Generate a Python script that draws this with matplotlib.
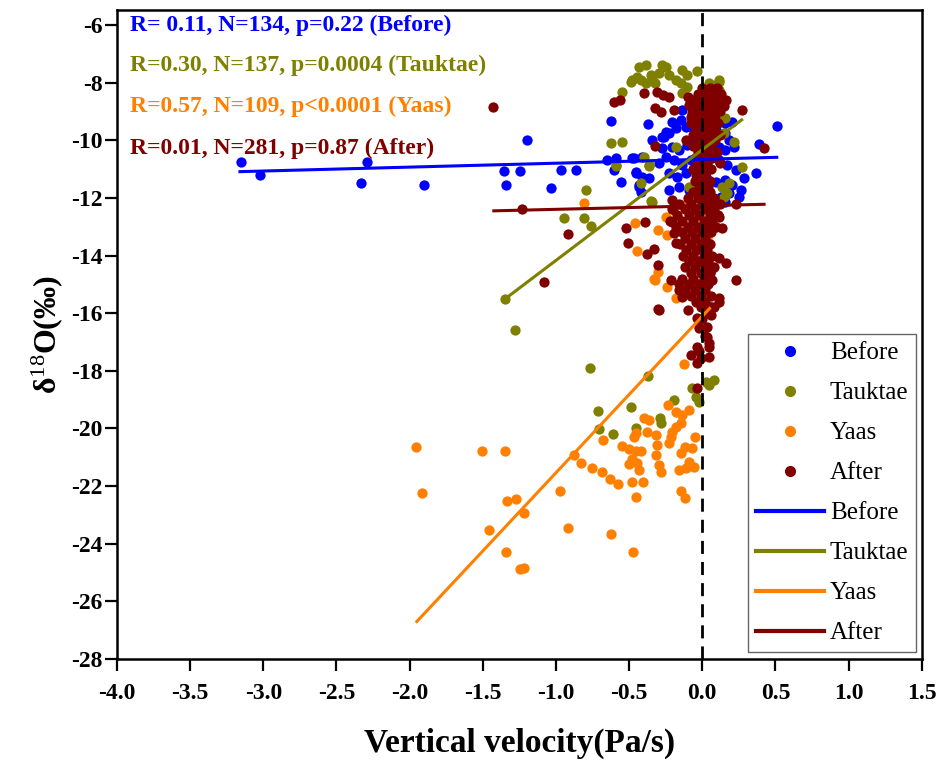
import matplotlib
matplotlib.use("Agg")
import matplotlib.pyplot as plt
from matplotlib.lines import Line2D
import numpy as np

plt.rcParams['font.family'] = ['Liberation Serif', 'DejaVu Serif']
plt.rcParams['mathtext.fontset'] = 'custom'
plt.rcParams['mathtext.rm'] = 'Liberation Serif'
plt.rcParams['mathtext.it'] = 'Liberation Serif:italic'
plt.rcParams['mathtext.bf'] = 'Liberation Serif:bold'

# ---------------- data ----------------
series_names = ["Before", "Tauktae", "Yaas", "After"]
series_colors = ["#0000FF", "#808000", "#FF8000", "#800000"]

before_pts = [
    (-3.156, -10.74), (-3.023, -11.20), (-2.290, -10.74), (-2.331, -11.47), (-1.902, -11.55),
    (-1.356, -11.07), (-1.249, -11.07), (-1.340, -11.55), (-1.201, -9.99), (-1.037, -11.67),
    (-0.968, -11.03), (-0.861, -11.03),
    (-0.627, -9.33), (-0.369, -9.43), (-0.649, -10.68), (-0.592, -10.63), (-0.467, -10.63),
    (-0.410, -10.57), (-0.604, -11.03), (-0.558, -11.44), (-0.456, -11.15), (-0.365, -11.32),
    (-0.433, -11.55), (-0.421, -11.78), (-0.342, -9.99), (-0.273, -9.87), (-0.228, -9.76),
    (-0.182, -9.59), (-0.148, -9.30), (-0.137, -8.95), (-0.205, -9.35), (-0.251, -9.70),
    (-0.296, -10.80), (-0.251, -10.57), (-0.194, -10.68), (-0.137, -10.86), (-0.080, -10.68),
    (-0.023, -10.63), (0.057, -10.57), (0.114, -10.68), (0.171, -10.86), (0.228, -11.03),
    (0.285, -11.32), (0.365, -11.15), (-0.273, -10.28), (-0.205, -10.22), (-0.159, -10.34),
    (-0.103, -10.16), (-0.068, -9.99), (-0.057, -9.64), (-0.114, -9.53), (0.023, -9.82),
    (0.091, -9.64), (0.159, -9.76), (0.182, -9.99), (0.205, -9.35), (0.159, -9.41),
    (0.114, -10.22), (0.159, -10.34), (0.216, -10.22), (-0.228, -11.15), (-0.171, -11.26),
    (-0.114, -11.15), (-0.046, -11.38), (0.023, -11.26), (0.091, -11.44), (0.159, -11.38),
    (0.205, -11.55), (0.251, -11.96), (0.262, -11.72), (0.182, -11.84), (0.125, -11.96),
    (0.159, -12.13), (0.068, -12.01), (-0.023, -11.84), (-0.091, -11.72), (-0.159, -11.61),
    (-0.228, -11.72), (0.513, -9.50), (0.387, -10.13), (-0.478, -10.63), (-0.455, -11.09),
    (-0.433, -11.61), (-0.410, -11.26), (-0.262, -9.88),
]

tauktae_pts = [
    (-0.433, -7.45), (-0.387, -7.39), (-0.273, -7.39), (-0.250, -7.45), (-0.296, -7.68),
    (-0.490, -7.97), (-0.444, -7.79), (-0.342, -7.85), (-0.228, -7.73), (-0.182, -7.91),
    (-0.137, -7.56), (-0.103, -7.73), (-0.148, -8.02), (-0.103, -8.14), (-0.034, -7.59),
    (0.046, -8.02), (0.092, -8.08), (0.114, -7.91), (0.114, -8.26), (-0.547, -8.31),
    (-0.387, -8.02), (-0.480, -7.91), (-0.420, -7.91), (-0.350, -7.73), (-0.320, -8.02),
    (-0.137, -8.37), (0.057, -8.14), (0.114, -7.97),
    (-0.627, -10.10), (-0.547, -10.05), (-0.399, -10.57), (-0.365, -10.86), (-0.592, -10.86),
    (-0.182, -10.22), (-0.421, -11.49), (-0.353, -12.11), (-0.797, -11.73), (-0.946, -12.71),
    (-0.809, -12.71), (-0.763, -12.96), (-0.590, -10.89), (-0.364, -10.89), (-0.346, -12.13),
    (0.159, -9.24), (0.216, -10.05), (0.273, -10.92), (0.182, -11.49), (0.137, -11.61),
    (0.171, -11.84), (0.148, -11.96), (0.091, -12.19), (-0.091, -11.61), (0.148, -9.76),
    (0.091, -9.35),
    (-1.349, -15.51), (-1.280, -16.58), (-0.768, -17.89), (-0.369, -18.18), (-0.713, -19.38),
    (-0.485, -19.27), (-0.706, -20.02), (-0.610, -20.19), (-0.455, -19.99), (-0.289, -19.65),
    (-0.284, -19.80), (-0.193, -19.03), (-0.068, -18.60), (-0.045, -18.90), (-0.023, -19.07),
    (0.023, -18.38), (0.080, -18.32), (0.046, -18.49),
]

yaas_pts = [
    (-0.125, -17.76), (-0.234, -19.19), (-0.182, -19.42), (-0.141, -19.53), (-0.091, -19.36),
    (-0.400, -19.65), (-0.364, -19.71), (-0.148, -19.82), (-0.182, -19.94), (-0.205, -20.11),
    (-0.216, -20.29), (-0.228, -20.52), (-0.148, -20.86), (-0.118, -20.63), (-0.068, -20.69),
    (-0.050, -20.31), (-0.376, -20.11), (-0.319, -20.23), (-0.308, -20.57), (-0.319, -20.92),
    (-0.296, -21.27), (-0.284, -21.50), (-0.455, -20.17), (-0.467, -20.29), (-0.679, -20.40),
    (-0.547, -20.60), (-0.500, -20.72), (-0.455, -20.80), (-0.421, -20.80), (-0.478, -21.07),
    (-0.500, -21.23), (-0.444, -21.21), (-0.433, -21.44), (-0.159, -21.44), (-0.114, -21.38),
    (-0.091, -21.15), (-0.057, -21.33), (-0.483, -21.85), (-0.403, -21.85), (-0.451, -22.37),
    (-0.148, -22.16), (-0.120, -22.40), (-0.877, -20.92), (-0.831, -21.21), (-0.752, -21.36),
    (-0.684, -21.52), (-0.633, -21.75), (-0.576, -21.93), (-0.973, -22.17), (-0.918, -23.44),
    (-0.626, -23.67), (-0.474, -24.28), (-1.959, -20.63), (-1.914, -22.25), (-1.504, -20.80),
    (-1.351, -20.78), (-1.333, -22.51), (-1.275, -22.45), (-1.219, -22.94), (-1.458, -23.52),
    (-1.344, -24.30), (-1.248, -24.89), (-1.219, -24.83),
    (-0.809, -12.17), (-0.460, -12.88), (-0.444, -13.83), (-0.328, -14.82), (-0.300, -13.11),
    (-0.239, -13.29), (-0.303, -14.56), (-0.325, -14.85), (-0.239, -15.10), (-0.250, -12.65),
    (0.034, -13.40), (-0.137, -12.25), (-0.178, -15.48),
]

after_pts = [
    (-1.429, -8.86), (-1.235, -12.38), (-1.082, -14.92), (-0.918, -13.25), (-0.600, -8.66),
    (-0.560, -8.60), (-0.400, -8.37), (-0.310, -8.31), (-0.270, -8.43), (-0.230, -8.49),
    (-0.320, -8.89), (-0.280, -9.01), (-0.193, -8.95), (-0.100, -8.49), (-0.090, -8.78),
    (-0.070, -9.06), (-0.080, -9.41), (-0.110, -9.99), (0.273, -8.95), (0.422, -10.28),
    (-0.323, -10.20), (0.232, -12.21), (0.228, -14.85), (0.114, -15.48), (-0.296, -15.89),
    (-0.100, -15.89), (-0.524, -13.05), (-0.390, -12.83), (-0.506, -13.55), (-0.376, -13.95),
    (-0.330, -13.78), (-0.300, -14.33), (-0.216, -14.85), (-0.182, -13.57), (-0.193, -13.23),
    (-0.205, -12.83), (-0.205, -12.07), (-0.210, -12.40), (-0.160, -15.20), (-0.137, -15.43),
    (-0.300, -15.86), (0.114, -12.65), (0.137, -13.05), (0.092, -13.00), (0.114, -14.10),
    (0.160, -14.27), (0.057, -14.50), (0.068, -14.85), (0.060, -15.77), (0.040, -16.00),
    (0.034, -16.47), (0.046, -17.05), (-0.034, -17.16), (-0.023, -16.24), (-0.034, -16.18),
    (-0.023, -16.52), (0.057, -16.06), (0.080, -15.77), (0.114, -15.60), (0.034, -16.82),
    (0.046, -17.16), (-0.080, -17.45), (-0.034, -17.74), (-0.011, -17.57), (0.046, -17.51),
    (-0.034, -18.60),
    # dense column near zero
    (0.00, -8.2), (0.05, -8.2), (0.10, -8.2),
    (-0.03, -8.4), (0.03, -8.4), (0.08, -8.4), (0.13, -8.4),
    (-0.06, -8.6), (0.00, -8.6), (0.06, -8.6), (0.12, -8.6), (0.16, -8.6),
    (-0.08, -8.8), (-0.02, -8.8), (0.04, -8.8), (0.10, -8.8), (0.15, -8.8),
    (-0.05, -9.0), (0.00, -9.0), (0.06, -9.0), (0.12, -9.0),
    (-0.08, -9.2), (-0.02, -9.2), (0.04, -9.2), (0.09, -9.2),
    (-0.06, -9.4), (0.00, -9.4), (0.05, -9.4), (0.11, -9.4),
    (-0.04, -9.6), (0.02, -9.6), (0.08, -9.6),
    (-0.06, -9.8), (0.00, -9.8), (0.05, -9.8), (0.12, -9.8),
    (-0.03, -10.0), (0.03, -10.0), (0.09, -10.0),
    (-0.06, -10.2), (0.00, -10.2), (0.06, -10.2),
    (-0.03, -10.4), (0.03, -10.4), (0.10, -10.4),
    (-0.05, -10.6), (0.01, -10.6), (0.07, -10.6),
    (-0.03, -10.8), (0.03, -10.8), (0.12, -10.8),
    (-0.06, -11.0), (0.00, -11.0), (0.06, -11.0),
    (-0.04, -11.2), (0.02, -11.2),
    (-0.05, -11.4), (0.01, -11.4), (0.05, -11.4),
    (-0.02, -11.6), (0.04, -11.6),
    (-0.06, -11.8), (0.00, -11.8), (0.05, -11.8),
    (-0.10, -12.0), (-0.03, -12.0), (0.03, -12.0), (0.08, -12.0),
    (-0.16, -12.2), (-0.08, -12.2), (0.00, -12.2), (0.06, -12.2), (0.12, -12.2),
    (-0.20, -12.4), (-0.12, -12.4), (-0.05, -12.4), (0.02, -12.4), (0.08, -12.4),
    (-0.17, -12.6), (-0.09, -12.6), (-0.02, -12.6), (0.05, -12.6), (0.11, -12.6),
    (-0.22, -12.8), (-0.14, -12.8), (-0.06, -12.8), (0.01, -12.8), (0.07, -12.8),
    (-0.18, -13.0), (-0.10, -13.0), (-0.03, -13.0), (0.04, -13.0),
    (-0.14, -13.2), (-0.07, -13.2), (0.00, -13.2), (0.06, -13.2),
    (-0.12, -13.4), (-0.05, -13.4), (0.02, -13.4),
    (-0.15, -13.6), (-0.08, -13.6), (-0.01, -13.6), (0.05, -13.6),
    (-0.11, -13.8), (-0.04, -13.8), (0.03, -13.8),
    (-0.13, -14.0), (-0.06, -14.0), (0.01, -14.0), (0.07, -14.0),
    (-0.09, -14.2), (-0.02, -14.2), (0.04, -14.2),
    (-0.12, -14.4), (-0.05, -14.4), (0.02, -14.4), (0.08, -14.4),
    (-0.08, -14.6), (-0.01, -14.6), (0.05, -14.6),
    (-0.14, -14.8), (-0.06, -14.8), (0.01, -14.8),
    (-0.16, -15.0), (-0.09, -15.0), (-0.02, -15.0), (0.04, -15.0),
    (-0.12, -15.2), (-0.05, -15.2), (0.02, -15.2),
    (-0.08, -15.4), (-0.01, -15.4), (0.06, -15.4),
    (-0.04, -15.6), (0.02, -15.6),
    (-0.01, -15.8), (0.05, -15.8),
    (0.00, -16.2), (0.02, -16.8), (-0.02, -17.3),
]

# regression line end points (x0, y0, x1, y1)
fit_before = (-3.17, -11.09, 0.52, -10.59)
fit_tauktae = (-1.349, -15.51, 0.278, -9.26)
fit_yaas = (-1.958, -26.74, 0.057, -15.80)
fit_after = (-1.435, -12.45, 0.433, -12.22)

stat_texts = [
    "R= 0.11, N=134, p=0.22 (Before)",
    "R=0.30, N=137, p=0.0004 (Tauktae)",
    "R=0.57, N=109, p<0.0001 (Yaas)",
    "R=0.01, N=281, p=0.87 (After)",
]

xticks = [-4.0, -3.5, -3.0, -2.5, -2.0, -1.5, -1.0, -0.5, 0.0, 0.5, 1.0, 1.5]
yticks = [-28, -26, -24, -22, -20, -18, -16, -14, -12, -10, -8, -6]

# ---------------- plot ----------------
fig = plt.figure(figsize=(9.46, 7.65), dpi=100)
ax = fig.add_axes([0.1237, 0.1386, 0.8506, 0.8483])

all_pts = [before_pts, tauktae_pts, yaas_pts, after_pts]
for pts, name, col in zip(all_pts, series_names, series_colors):
    arr = np.array(pts)
    ax.scatter(arr[:, 0], arr[:, 1], s=55, color=col, linewidths=0, zorder=2)

fits = [fit_before, fit_tauktae, fit_yaas, fit_after]
for f, col in zip(fits, series_colors):
    ax.plot([f[0], f[2]], [f[1], f[3]], color=col, lw=2.2, zorder=4, solid_capstyle='butt')

ax.axvline(0, color='black', lw=2, linestyle=(0, (4.7, 2.9)), zorder=5)

ax.set_xlim(-4.0, 1.5)
ax.set_ylim(-28, -5.48)
ax.set_xticks(xticks)
ax.set_xticklabels([f"{v:.1f}" for v in xticks])
ax.set_yticks(yticks)
ax.set_yticklabels([str(v) for v in yticks])

for sp in ax.spines.values():
    sp.set_linewidth(1.8)
ax.tick_params(direction='out', length=8.5, width=1.6, labelsize=17)
ax.tick_params(axis='x', pad=9)
ax.tick_params(axis='y', pad=2)
for lab in ax.get_xticklabels() + ax.get_yticklabels():
    lab.set_fontweight('bold')

ax.set_xlabel("Vertical velocity(Pa/s)", fontsize=24, fontweight='bold', labelpad=17)
ax.set_ylabel("δ$^{18}$O(‰)", fontsize=23, fontweight='bold', labelpad=4)

ys = [0.977, 0.915, 0.851, 0.787]
for t, col, yy in zip(stat_texts, series_colors, ys):
    ax.text(0.016, yy, t, transform=ax.transAxes, color=col, fontsize=17,
            fontweight='bold', va='center', ha='left')

handles = []
for name, col in zip(series_names, series_colors):
    handles.append(Line2D([], [], linestyle='none', marker='o', markersize=7,
                          color=col, label=name))
for name, col in zip(series_names, series_colors):
    handles.append(Line2D([], [], color=col, lw=3, label=name))

leg = ax.legend(handles=handles, loc='lower right', bbox_to_anchor=(0.993, 0.011),
                borderaxespad=0, fontsize=18, frameon=True, fancybox=False,
                handlelength=2.75, handletextpad=0.22, labelspacing=0.70,
                borderpad=0.3)
leg.get_frame().set_edgecolor('#404040')
leg.get_frame().set_linewidth(1.0)

fig.savefig("out.png", dpi=100)
